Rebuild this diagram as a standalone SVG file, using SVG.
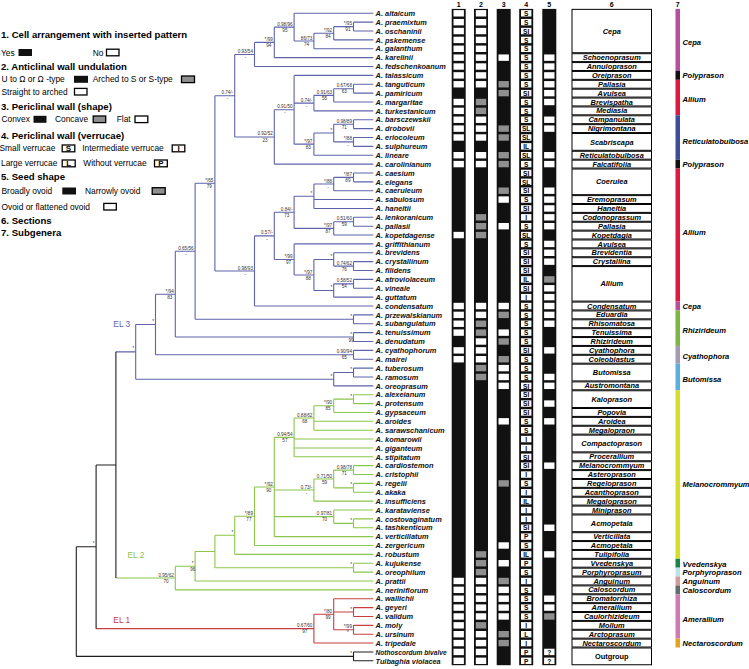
<svg xmlns="http://www.w3.org/2000/svg" width="749" height="669" viewBox="0 0 749 669">
<defs>
<style>
text{font-family:"Liberation Sans",Arial,Helvetica,sans-serif}
.lh{font-size:9.6px;font-weight:bold}
.lg{font-size:8.4px}
.tl{font-size:7.4px;font-weight:bold;font-style:italic;fill:#111}
.s{font-size:4.6px;fill:#333;text-anchor:middle}
.sec{font-size:7.4px;font-weight:bold;font-style:italic;text-anchor:middle}
.sg{font-size:7.6px;font-weight:bold;font-style:italic}
.hd{font-size:7px;font-weight:bold;text-anchor:middle}
.c4{font-size:6.6px;font-weight:bold;text-anchor:middle}
.el{font-size:8.4px}
.tr{fill:none;stroke-width:1.1}
.box{fill:#fff;stroke:#000;stroke-width:1}
.lb{fill:#fff;stroke:#000;stroke-width:1.3}
.lgr{fill:#8f8f8f;stroke:#000;stroke-width:1.3}
.lt{font-size:8px;font-weight:bold;text-anchor:middle}
</style>
<rect id="w" width="10.4" height="6.4" fill="#fff"/>
<rect id="g" width="10.4" height="6.4" fill="#8f8f8f"/>
</defs>
<rect width="749" height="669" fill="#fff"/>

<g id="legend">
<text class="lh" x="1" y="38.4">1. Cell arrangement with inserted pattern</text>
<text class="lg" x="1" y="55.7">Yes</text><rect x="18.5" y="49" width="13.5" height="7" fill="#111"/>
<text class="lg" x="92.7" y="55.7">No</text><rect class="lb" x="106.5" y="49.2" width="12.5" height="6.6"/>
<text class="lh" x="1" y="70.1">2. Anticlinal wall undulation</text>
<text class="lg" x="1.5" y="82.3">U to Ω or Ω -type</text><rect x="74" y="75.8" width="14" height="7" fill="#111"/>
<text class="lg" x="92.7" y="82.3">Arched to S or S-type</text><rect class="lgr" x="181.5" y="76" width="13" height="6.6"/>
<text class="lg" x="1.5" y="94.7">Straight to arched</text><rect class="lb" x="74.5" y="88.4" width="12.5" height="6.6"/>
<text class="lh" x="1" y="110.1">3. Periclinal wall (shape)</text>
<text class="lg" x="1.5" y="122.3">Convex</text><rect x="33.5" y="115.8" width="13" height="7" fill="#111"/>
<text class="lg" x="55" y="122.3">Concave</text><rect class="lgr" x="93.2" y="116" width="12.5" height="6.6"/>
<text class="lg" x="116.7" y="122.3">Flat</text><rect class="lb" x="135" y="116" width="12.8" height="6.6"/>
<text class="lh" x="1" y="139.1">4. Periclinal wall (verrucae)</text>
<text class="lg" x="-0.5" y="151.3">Small verrucae</text><rect class="lb" x="62.2" y="145" width="12.6" height="6.8"/><text class="lt" x="68.5" y="151">S</text>
<text class="lg" x="82.3" y="151.3">Intermediate verrucae</text><rect class="lb" x="172.2" y="145" width="12.6" height="6.8"/><text class="lt" x="178.5" y="151">I</text>
<text class="lg" x="1" y="166.3">Large verrucae</text><rect class="lb" x="62.2" y="160" width="13" height="6.8"/><text class="lt" x="68.7" y="166">L</text>
<text class="lg" x="83.3" y="166.3">Without verrucae</text><rect class="lb" x="154.5" y="160" width="12.8" height="6.8"/><text class="lt" x="160.9" y="166">P</text>
<text class="lh" x="1" y="180.1">5. Seed shape</text>
<text class="lg" x="1.5" y="194">Broadly ovoid</text><rect x="62.3" y="187.5" width="13.7" height="7" fill="#111"/>
<text class="lg" x="85" y="194">Narrowly ovoid</text><rect class="lgr" x="152.2" y="187.7" width="13" height="6.6"/>
<text class="lg" x="1.5" y="209.7">Ovoid or flattened ovoid</text><rect class="lb" x="103.8" y="203.4" width="12.5" height="6.6"/>
<text class="lh" x="1" y="224.4">6. Sections</text>
<text class="lh" x="1" y="236.1">7. Subgenera</text>
</g>

<g id="connectors">
<path class="tr" stroke="#5f63aa" d="M353.5 22.17V31.04M353.5 22.17H373.3M353.5 31.04H373.3M333.7 26.61V39.91M333.7 26.61H353.5M333.7 39.91H373.3M313.9 33.26V48.78M313.9 33.26H333.7M313.9 48.78H373.3M294.1 13.3V41.02M294.1 13.3H373.3M294.1 41.02H313.9M274.3 27.16V57.65M274.3 27.16H294.1M274.3 57.65H373.3M254.5 42.41V66.52M254.5 42.41H274.3M254.5 66.52H373.3M353.5 84.26V93.13M353.5 84.26H373.3M353.5 93.13H373.3M333.7 88.7V102M333.7 88.7H353.5M333.7 102H373.3M313.9 95.35V110.87M313.9 95.35H333.7M313.9 110.87H373.3M353.5 119.74V128.61M353.5 119.74H373.3M353.5 128.61H373.3M353.5 137.48V146.35M353.5 137.48H373.3M353.5 146.35H373.3M333.7 124.18V141.92M333.7 124.18H353.5M333.7 141.92H353.5M313.9 133.05V155.22M313.9 133.05H333.7M313.9 155.22H373.3M294.1 75.39V144.14M294.1 75.39H373.3M294.1 103.11H313.9M294.1 144.14H313.9M274.3 109.77V164.09M274.3 109.77H294.1M274.3 164.09H373.3M234.7 54.47V136.93M234.7 54.47H254.5M234.7 136.93H274.3M353.5 172.96V181.83M353.5 172.96H373.3M353.5 181.83H373.3M333.7 177.4V190.7M333.7 177.4H353.5M333.7 190.7H373.3M313.9 184.05V208.44M313.9 184.05H333.7M313.9 199.57H373.3M313.9 208.44H373.3M353.5 217.31V226.18M353.5 217.31H373.3M353.5 226.18H373.3M333.7 221.75V235.05M333.7 221.75H353.5M333.7 235.05H373.3M294.1 196.25V228.4M294.1 196.25H313.9M294.1 228.4H333.7M353.5 261.66V270.53M353.5 261.66H373.3M353.5 270.53H373.3M333.7 252.79V266.1M333.7 252.79H373.3M333.7 266.1H353.5M353.5 279.4V288.27M353.5 279.4H373.3M353.5 288.27H373.3M333.7 283.84V297.14M333.7 283.84H353.5M333.7 297.14H373.3M313.9 259.44V290.49M313.9 259.44H333.7M313.9 290.49H333.7M294.1 243.92V274.97M294.1 243.92H373.3M294.1 274.97H313.9M274.3 212.32V259.44M274.3 212.32H294.1M274.3 259.44H294.1M254.5 235.88V306.01M254.5 235.88H274.3M254.5 306.01H373.3M214.9 95.7V270.95M214.9 95.7H234.7M214.9 270.95H254.5M353.5 314.88V323.75M353.5 314.88H373.3M353.5 323.75H373.3M195.1 183.32V319.31M195.1 183.32H214.9M195.1 319.31H353.5M353.5 332.62V341.49M353.5 332.62H373.3M353.5 341.49H373.3M175.3 251.32V337.05M175.3 251.32H195.1M175.3 337.05H353.5M353.5 350.36V359.23M353.5 350.36H373.3M353.5 359.23H373.3M155.5 294.19V354.8M155.5 294.19H175.3M155.5 354.8H353.5M353.5 368.1V376.97M353.5 368.1H373.3M353.5 376.97H373.3M333.7 372.54V385.84M333.7 372.54H353.5M333.7 385.84H373.3M135.7 324.49V379.19M135.7 324.49H155.5M135.7 379.19H333.7M115.9 351.84H135.7"/>
<path class="tr" stroke="#8cc64a" d="M353.5 394.71V403.58M353.5 394.71H373.3M353.5 403.58H373.3M333.7 399.15V412.45M333.7 399.15H353.5M333.7 412.45H373.3M313.9 405.8V430.19M313.9 405.8H333.7M313.9 421.32H373.3M313.9 430.19H373.3M294.1 418V456.8M294.1 418H313.9M294.1 439.06H373.3M294.1 447.93H373.3M294.1 456.8H373.3M353.5 465.67V474.54M353.5 465.67H373.3M353.5 474.54H373.3M353.5 483.41V492.28M353.5 483.41H373.3M353.5 492.28H373.3M333.7 470.11V487.85M333.7 470.11H353.5M333.7 487.85H353.5M313.9 478.98V501.15M313.9 478.98H333.7M313.9 501.15H373.3M353.5 518.89V527.76M353.5 518.89H373.3M353.5 527.76H373.3M333.7 510.02V523.33M333.7 510.02H373.3M333.7 523.33H353.5M274.3 437.4V536.63M274.3 437.4H294.1M274.3 490.07H313.9M274.3 516.67H333.7M274.3 536.63H373.3M254.5 487.02V545.5M254.5 487.02H274.3M254.5 545.5H373.3M234.7 516.26V554.37M234.7 516.26H254.5M234.7 554.37H373.3M353.5 563.24V572.11M353.5 563.24H373.3M353.5 572.11H373.3M214.9 535.32V567.68M214.9 535.32H234.7M214.9 567.68H353.5M195.1 551.5V580.98M195.1 551.5H214.9M195.1 580.98H373.3M175.3 566.24V589.85M175.3 566.24H195.1M175.3 589.85H373.3M115.9 578.05H175.3"/>
<path class="tr" stroke="#c83c40" d="M353.5 607.59V616.46M353.5 607.59H373.3M353.5 616.46H373.3M353.5 625.33V634.2M353.5 625.33H373.3M353.5 634.2H373.3M333.7 598.72V629.77M333.7 598.72H373.3M333.7 612.03H353.5M333.7 629.77H353.5M313.9 614.25V643.07M313.9 614.25H333.7M313.9 643.07H373.3M96.1 628.66H313.9"/>
<path class="tr" stroke="#1e1e1e" d="M115.9 351.84V578.05M96.1 464.95V628.66M96.1 464.95H115.9M76.3 546.81V656.38M76.3 546.81H96.1M76.3 656.38H353.5M353.5 651.94V660.81M353.5 651.94H373.3M353.5 660.81H373.3"/>
</g>

<g id="support">
<text class="s" x="347.9" y="25.1">*/95</text><text class="s" x="347.9" y="31.2">91</text>
<text class="s" x="328.1" y="31.8">*/92</text><text class="s" x="328.1" y="37.9">84</text>
<text class="s" x="306.6" y="39.5">86/73</text><text class="s" x="306.6" y="45.6">74</text>
<text class="s" x="284.9" y="25.7">0.98/96</text><text class="s" x="284.9" y="31.8">95</text>
<text class="s" x="268.7" y="40.9">*/99</text><text class="s" x="268.7" y="47">94</text>
<text class="s" x="245.3" y="53">0.93/54</text><text class="s" x="245.3" y="59.1">-</text>
<text class="s" x="227.3" y="94.2">0.74/-</text><text class="s" x="227.3" y="100.3">-</text>
<text class="s" x="344.3" y="87.2">0.67/68</text><text class="s" x="344.3" y="93.3">63</text>
<text class="s" x="324.5" y="93.9">0.91/63</text><text class="s" x="324.5" y="100">55</text>
<text class="s" x="306.5" y="101.6">0.74/-</text><text class="s" x="306.5" y="107.7">-</text>
<text class="s" x="284.9" y="108.3">0.91/50</text><text class="s" x="284.9" y="114.4">-</text>
<text class="s" x="265.1" y="135.4">0.92/52</text><text class="s" x="265.1" y="141.5">23</text>
<text class="s" x="344.3" y="122.7">0.98/89</text><text class="s" x="344.3" y="128.8">71</text>
<text class="s" x="347.9" y="140.4">*/88</text><text class="s" x="347.9" y="146.5">-</text>
<text class="s" x="331.3" y="131.6">*</text>
<text class="s" x="308.3" y="142.6">*/97</text><text class="s" x="308.3" y="148.7">83</text>
<text class="s" x="347.9" y="175.9">*/87</text><text class="s" x="347.9" y="182">89</text>
<text class="s" x="328.1" y="182.6">*/88</text><text class="s" x="328.1" y="188.7">-</text>
<text class="s" x="311.5" y="194.8">*</text>
<text class="s" x="344.3" y="220.3">0.51/60</text><text class="s" x="344.3" y="226.4">59</text>
<text class="s" x="328.1" y="226.9">*/97</text><text class="s" x="328.1" y="233">87</text>
<text class="s" x="286.7" y="210.8">0.84/-</text><text class="s" x="286.7" y="216.9">73</text>
<text class="s" x="344.3" y="264.6">0.74/62</text><text class="s" x="344.3" y="270.7">76</text>
<text class="s" x="331.3" y="257.9">*</text>
<text class="s" x="344.3" y="282.3">0.58/52</text><text class="s" x="344.3" y="288.4">54</text>
<text class="s" x="331.3" y="289">*</text>
<text class="s" x="308.3" y="273.5">*/97</text><text class="s" x="308.3" y="279.6">88</text>
<text class="s" x="288.5" y="257.9">*/99</text><text class="s" x="288.5" y="264">97</text>
<text class="s" x="266.9" y="234.4">0.57/-</text><text class="s" x="266.9" y="240.5">-</text>
<text class="s" x="245.3" y="269.5">0.98/93</text><text class="s" x="245.3" y="275.6">-</text>
<text class="s" x="209.3" y="181.8">*/65</text><text class="s" x="209.3" y="187.9">79</text>
<text class="s" x="351.1" y="317.8">*</text>
<text class="s" x="185.9" y="249.8">0.65/56</text><text class="s" x="185.9" y="255.9">-</text>
<text class="s" x="351.1" y="335.6">*</text><text class="s" x="351.1" y="341.7">99</text>
<text class="s" x="169.7" y="292.7">*/94</text><text class="s" x="169.7" y="298.8">83</text>
<text class="s" x="344.3" y="353.3">0.90/94</text><text class="s" x="344.3" y="359.4">65</text>
<text class="s" x="153.1" y="323">*</text>
<text class="s" x="351.1" y="371">*</text>
<text class="s" x="331.3" y="377.7">*</text>
<text class="s" x="133.3" y="350.3">*</text>
<text class="s" x="351.1" y="397.7">*</text>
<text class="s" x="328.1" y="404.3">*/90</text><text class="s" x="328.1" y="410.4">85</text>
<text class="s" x="304.7" y="416.5">0.88/62</text><text class="s" x="304.7" y="422.6">68</text>
<text class="s" x="284.9" y="435.9">0.94/54</text><text class="s" x="284.9" y="442">57</text>
<text class="s" x="344.3" y="468.6">0.98/78</text><text class="s" x="344.3" y="474.7">71</text>
<text class="s" x="351.1" y="486.4">*</text>
<text class="s" x="324.5" y="477.5">0.71/50</text><text class="s" x="324.5" y="483.6">59</text>
<text class="s" x="306.5" y="488.6">0.73/-</text><text class="s" x="306.5" y="494.7">-</text>
<text class="s" x="351.1" y="521.8">*</text>
<text class="s" x="324.5" y="515.2">0.97/81</text><text class="s" x="324.5" y="521.3">70</text>
<text class="s" x="268.7" y="485.5">*/92</text><text class="s" x="268.7" y="491.6">90</text>
<text class="s" x="248.9" y="514.8">*/89</text><text class="s" x="248.9" y="520.9">77</text>
<text class="s" x="232.3" y="533.8">*</text>
<text class="s" x="351.1" y="566.2">*</text>
<text class="s" x="192.7" y="564.7">*</text><text class="s" x="192.7" y="570.8">96</text>
<text class="s" x="166.1" y="576.6">0.95/62</text><text class="s" x="166.1" y="582.7">70</text>
<text class="s" x="351.1" y="610.5">*</text>
<text class="s" x="347.9" y="628.3">*/99</text><text class="s" x="347.9" y="634.4">*</text>
<text class="s" x="328.1" y="612.8">*/80</text><text class="s" x="328.1" y="618.9">99</text>
<text class="s" x="304.7" y="627.2">0.67/60</text><text class="s" x="304.7" y="633.3">97</text>
<text class="s" x="93.7" y="545.3">*</text>
<text class="s" x="351.1" y="654.9">*</text>
</g>

<g id="clades">
<text class="el" x="113.3" y="327.2" fill="#5f63aa">EL 3</text>
<text class="el" x="127.5" y="558" fill="#8cc64a">EL 2</text>
<text class="el" x="113.3" y="623" fill="#c83c40">EL 1</text>
</g>

<g id="taxa" class="tl">
<text id="t1" x="375.6" y="16">A. altaicum</text>
<text id="t2" x="375.6" y="24.87">A. praemixtum</text>
<text id="t3" x="375.6" y="33.74">A. oschaninii</text>
<text id="t4" x="375.6" y="42.61">A. pskemense</text>
<text id="t5" x="375.6" y="51.48">A. galanthum</text>
<text id="t6" x="375.6" y="60.35">A. karelinii</text>
<text id="t7" x="375.6" y="69.22">A. fedschenkoanum</text>
<text id="t8" x="375.6" y="78.09">A. talassicum</text>
<text id="t9" x="375.6" y="86.96">A. tanguticum</text>
<text id="t10" x="375.6" y="95.83">A. pamiricum</text>
<text id="t11" x="375.6" y="104.7">A. margaritae</text>
<text id="t12" x="375.6" y="113.57">A. turkestanicum</text>
<text id="t13" x="375.6" y="122.44">A. barsczewskii</text>
<text id="t14" x="375.6" y="131.31">A. drobovii</text>
<text id="t15" x="375.6" y="140.18">A. eriocoleum</text>
<text id="t16" x="375.6" y="149.05">A. sulphureum</text>
<text id="t17" x="375.6" y="157.92">A. lineare</text>
<text id="t18" x="375.6" y="166.79">A. carolinianum</text>
<text id="t19" x="375.6" y="175.66">A. caesium</text>
<text id="t20" x="375.6" y="184.53">A. elegans</text>
<text id="t21" x="375.6" y="193.4">A. caeruleum</text>
<text id="t22" x="375.6" y="202.27">A. sabulosum</text>
<text id="t23" x="375.6" y="211.14">A. haneltii</text>
<text id="t24" x="375.6" y="220.01">A. lenkoranicum</text>
<text id="t25" x="375.6" y="228.88">A. pallasii</text>
<text id="t26" x="375.6" y="237.75">A. kopetdagense</text>
<text id="t27" x="375.6" y="246.62">A. griffithianum</text>
<text id="t28" x="375.6" y="255.49">A. brevidens</text>
<text id="t29" x="375.6" y="264.36">A. crystallinum</text>
<text id="t30" x="375.6" y="273.23">A. filidens</text>
<text id="t31" x="375.6" y="282.1">A. atroviolaceum</text>
<text id="t32" x="375.6" y="290.97">A. vineale</text>
<text id="t33" x="375.6" y="299.84">A. guttatum</text>
<text id="t34" x="375.6" y="308.71">A. condensatum</text>
<text id="t35" x="375.6" y="317.58">A. przewalskianum</text>
<text id="t36" x="375.6" y="326.45">A. subangulatum</text>
<text id="t37" x="375.6" y="335.32">A. tenuissimum</text>
<text id="t38" x="375.6" y="344.19">A. denudatum</text>
<text id="t39" x="375.6" y="353.06">A. cyathophorum</text>
<text id="t40" x="375.6" y="361.93">A. mairei</text>
<text id="t41" x="375.6" y="370.8">A. tuberosum</text>
<text id="t42" x="375.6" y="379.67">A. ramosum</text>
<text id="t43" x="375.6" y="388.54">A. oreoprasum</text>
<text id="t44" x="375.6" y="397.41">A. alexeianum</text>
<text id="t45" x="375.6" y="406.28">A. protensum</text>
<text id="t46" x="375.6" y="415.15">A. gypsaceum</text>
<text id="t47" x="375.6" y="424.02">A. aroides</text>
<text id="t48" x="375.6" y="432.89">A. sarawschanicum</text>
<text id="t49" x="375.6" y="441.76">A. komarowii</text>
<text id="t50" x="375.6" y="450.63">A. giganteum</text>
<text id="t51" x="375.6" y="459.5">A. stipitatum</text>
<text id="t52" x="375.6" y="468.37">A. cardiostemon</text>
<text id="t53" x="375.6" y="477.24">A. cristophii</text>
<text id="t54" x="375.6" y="486.11">A. regelii</text>
<text id="t55" x="375.6" y="494.98">A. akaka</text>
<text id="t56" x="375.6" y="503.85">A. insufficiens</text>
<text id="t57" x="375.6" y="512.72">A. karataviense</text>
<text id="t58" x="375.6" y="521.59">A. costovaginatum</text>
<text id="t59" x="375.6" y="530.46">A. tashkenticum</text>
<text id="t60" x="375.6" y="539.33">A. verticillatum</text>
<text id="t61" x="375.6" y="548.2">A. zergericum</text>
<text id="t62" x="375.6" y="557.07">A. robustum</text>
<text id="t63" x="375.6" y="565.94">A. kujukense</text>
<text id="t64" x="375.6" y="574.81">A. oreophilum</text>
<text id="t65" x="375.6" y="583.68">A. prattii</text>
<text id="t66" x="375.6" y="592.55">A. neriniflorum</text>
<text id="t67" x="375.6" y="601.42">A. wallichii</text>
<text id="t68" x="375.6" y="610.29">A. geyeri</text>
<text id="t69" x="375.6" y="619.16">A. validum</text>
<text id="t70" x="375.6" y="628.03">A. moly</text>
<text id="t71" x="375.6" y="636.9">A. ursinum</text>
<text id="t72" x="375.6" y="645.77">A. tripedale</text>
<text id="t73" x="375.6" y="654.64" textLength="71" lengthAdjust="spacingAndGlyphs">Nothoscordum bivalve</text>
<text id="t74" x="375.6" y="663.51" textLength="65" lengthAdjust="spacingAndGlyphs">Tulbaghia violacea</text>
</g>

<g id="headers" class="hd">
<text x="458.7" y="7">1</text><text x="481" y="7">2</text><text x="503.7" y="7">3</text><text x="526.2" y="7">4</text><text x="549.3" y="7">5</text><text x="611.7" y="7">6</text><text x="677.7" y="7">7</text>
</g>

<g id="strips" fill="#111">
<rect x="451.7" y="8.9" width="14" height="656.3"/>
<rect x="474" y="8.9" width="14" height="656.3"/>
<rect x="496.7" y="8.9" width="14" height="656.3"/>
<rect x="519.2" y="8.9" width="14" height="656.3"/>
<rect x="542.3" y="8.9" width="14" height="656.3"/>
</g>

<g id="col1" transform="translate(453.5,0)">
<use href="#w" y="10.1"/><use href="#w" y="18.97"/><use href="#w" y="27.84"/><use href="#w" y="36.71"/><use href="#w" y="45.58"/><use href="#w" y="54.45"/><use href="#w" y="63.32"/><use href="#w" y="72.19"/><use href="#w" y="81.06"/><use href="#w" y="98.8"/><use href="#w" y="107.67"/><use href="#w" y="116.54"/><use href="#w" y="125.41"/><use href="#w" y="134.28"/><use href="#w" y="152.02"/><use href="#w" y="160.89"/><use href="#w" y="231.85"/><use href="#w" y="302.81"/><use href="#w" y="311.68"/><use href="#w" y="320.55"/><use href="#w" y="329.42"/><use href="#w" y="347.16"/><use href="#w" y="356.03"/><use href="#w" y="577.78"/><use href="#w" y="586.65"/><use href="#w" y="595.52"/><use href="#w" y="604.39"/><use href="#w" y="613.26"/><use href="#w" y="622.13"/><use href="#w" y="631"/><use href="#w" y="639.87"/><use href="#w" y="648.74"/><use href="#w" y="657.61"/>
</g>
<g id="col2" transform="translate(475.8,0)">
<use href="#w" y="10.1"/><use href="#w" y="18.97"/><use href="#w" y="27.84"/><use href="#w" y="36.71"/><use href="#w" y="45.58"/><use href="#w" y="54.45"/><use href="#w" y="63.32"/><use href="#w" y="72.19"/><use href="#w" y="81.06"/><use href="#w" y="116.54"/><use href="#w" y="125.41"/><use href="#w" y="134.28"/><use href="#w" y="152.02"/><use href="#w" y="160.89"/><use href="#w" y="302.81"/><use href="#w" y="311.68"/><use href="#w" y="338.29"/><use href="#w" y="347.16"/><use href="#w" y="356.03"/><use href="#w" y="577.78"/><use href="#w" y="586.65"/><use href="#w" y="595.52"/><use href="#w" y="604.39"/><use href="#w" y="613.26"/><use href="#w" y="631"/><use href="#w" y="639.87"/><use href="#w" y="648.74"/><use href="#w" y="657.61"/>
<use href="#g" y="98.8"/><use href="#g" y="107.67"/><use href="#g" y="214.11"/><use href="#g" y="222.98"/><use href="#g" y="231.85"/><use href="#g" y="320.55"/><use href="#g" y="329.42"/><use href="#g" y="364.9"/><use href="#g" y="373.77"/><use href="#g" y="551.17"/><use href="#g" y="560.04"/><use href="#g" y="568.91"/><use href="#g" y="622.13"/>
</g>
<g id="col3" transform="translate(498.5,0)">
<use href="#w" y="54.45"/><use href="#w" y="196.37"/><use href="#w" y="222.98"/><use href="#w" y="302.81"/><use href="#w" y="329.42"/><use href="#w" y="364.9"/><use href="#w" y="373.77"/><use href="#w" y="382.64"/><use href="#w" y="418.12"/><use href="#w" y="542.3"/><use href="#w" y="560.04"/><use href="#w" y="586.65"/><use href="#w" y="595.52"/><use href="#w" y="604.39"/><use href="#w" y="613.26"/>
<use href="#g" y="81.06"/><use href="#g" y="89.93"/><use href="#g" y="125.41"/><use href="#g" y="134.28"/><use href="#g" y="152.02"/><use href="#g" y="160.89"/><use href="#g" y="187.5"/><use href="#g" y="311.68"/><use href="#g" y="338.29"/><use href="#g" y="356.03"/><use href="#g" y="480.21"/><use href="#g" y="577.78"/><use href="#g" y="631"/><use href="#g" y="639.87"/>
</g>
<g id="col5" transform="translate(544.1,0)">
<use href="#w" y="54.45"/><use href="#w" y="63.32"/><use href="#w" y="72.19"/><use href="#w" y="81.06"/><use href="#w" y="89.93"/><use href="#w" y="98.8"/><use href="#w" y="116.54"/><use href="#w" y="125.41"/><use href="#w" y="152.02"/><use href="#w" y="160.89"/><use href="#w" y="187.5"/><use href="#w" y="196.37"/><use href="#w" y="205.24"/><use href="#w" y="214.11"/><use href="#w" y="222.98"/><use href="#w" y="240.72"/><use href="#w" y="249.59"/><use href="#w" y="258.46"/><use href="#w" y="285.07"/><use href="#w" y="293.94"/><use href="#w" y="302.81"/><use href="#w" y="311.68"/><use href="#w" y="320.55"/><use href="#w" y="347.16"/><use href="#w" y="373.77"/><use href="#w" y="382.64"/><use href="#w" y="400.38"/><use href="#w" y="418.12"/><use href="#w" y="462.47"/><use href="#w" y="524.56"/><use href="#w" y="551.17"/><use href="#w" y="595.52"/><use href="#w" y="604.39"/><use href="#w" y="648.74"/><use href="#w" y="657.61"/>
<use href="#g" y="276.2"/><use href="#g" y="613.26"/>
<text class="c4" x="5.2" y="654.64">?</text><text class="c4" x="5.2" y="663.51">?</text>
</g>
<g id="col4">
<g transform="translate(521,0)">
<use href="#w" y="10.1"/><use href="#w" y="18.97"/><use href="#w" y="27.84"/><use href="#w" y="36.71"/><use href="#w" y="45.58"/><use href="#w" y="54.45"/><use href="#w" y="63.32"/><use href="#w" y="72.19"/><use href="#w" y="81.06"/><use href="#w" y="89.93"/><use href="#w" y="98.8"/><use href="#w" y="107.67"/><use href="#w" y="116.54"/><use href="#w" y="125.41"/><use href="#w" y="134.28"/><use href="#w" y="143.15"/><use href="#w" y="152.02"/><use href="#w" y="160.89"/><use href="#w" y="169.76"/><use href="#w" y="178.63"/><use href="#w" y="187.5"/><use href="#w" y="196.37"/><use href="#w" y="205.24"/><use href="#w" y="214.11"/><use href="#w" y="222.98"/><use href="#w" y="231.85"/><use href="#w" y="240.72"/><use href="#w" y="249.59"/><use href="#w" y="258.46"/><use href="#w" y="267.33"/><use href="#w" y="276.2"/><use href="#w" y="285.07"/><use href="#w" y="293.94"/><use href="#w" y="302.81"/><use href="#w" y="311.68"/><use href="#w" y="320.55"/><use href="#w" y="329.42"/><use href="#w" y="338.29"/><use href="#w" y="347.16"/><use href="#w" y="356.03"/><use href="#w" y="364.9"/><use href="#w" y="373.77"/><use href="#w" y="382.64"/><use href="#w" y="391.51"/><use href="#w" y="400.38"/><use href="#w" y="409.25"/><use href="#w" y="418.12"/><use href="#w" y="426.99"/><use href="#w" y="435.86"/><use href="#w" y="444.73"/><use href="#w" y="453.6"/><use href="#w" y="462.47"/><use href="#w" y="471.34"/><use href="#w" y="480.21"/><use href="#w" y="489.08"/><use href="#w" y="497.95"/><use href="#w" y="506.82"/><use href="#w" y="515.69"/><use href="#w" y="524.56"/><use href="#w" y="533.43"/><use href="#w" y="542.3"/><use href="#w" y="551.17"/><use href="#w" y="560.04"/><use href="#w" y="568.91"/><use href="#w" y="577.78"/><use href="#w" y="586.65"/><use href="#w" y="595.52"/><use href="#w" y="604.39"/><use href="#w" y="613.26"/><use href="#w" y="622.13"/><use href="#w" y="631"/><use href="#w" y="639.87"/><use href="#w" y="648.74"/><use href="#w" y="657.61"/>
</g>
<g class="c4">
<text x="526.2" y="16">S</text><text x="526.2" y="24.87">S</text><text x="526.2" y="33.74">SI</text><text x="526.2" y="42.61">S</text><text x="526.2" y="51.48">S</text><text x="526.2" y="60.35">S</text><text x="526.2" y="69.22">S</text><text x="526.2" y="78.09">S</text><text x="526.2" y="86.96">S</text><text x="526.2" y="95.83">SI</text><text x="526.2" y="104.7">S</text><text x="526.2" y="113.57">S</text><text x="526.2" y="122.44">S</text><text x="526.2" y="131.31">SL</text><text x="526.2" y="140.18">SL</text><text x="526.2" y="149.05">IL</text><text x="526.2" y="157.92">SL</text><text x="526.2" y="166.79">S</text><text x="526.2" y="175.66">SI</text><text x="526.2" y="184.53">SL</text><text x="526.2" y="193.4">SI</text><text x="526.2" y="202.27">S</text><text x="526.2" y="211.14">SI</text><text x="526.2" y="220.01">I</text><text x="526.2" y="228.88">S</text><text x="526.2" y="237.75">SL</text><text x="526.2" y="246.62">S</text><text x="526.2" y="255.49">SI</text><text x="526.2" y="264.36">SI</text><text x="526.2" y="273.23">SI</text><text x="526.2" y="282.1">IL</text><text x="526.2" y="290.97">SI</text><text x="526.2" y="299.84">I</text><text x="526.2" y="308.71">S</text><text x="526.2" y="317.58">S</text><text x="526.2" y="326.45">S</text><text x="526.2" y="335.32">S</text><text x="526.2" y="344.19">S</text><text x="526.2" y="353.06">SI</text><text x="526.2" y="361.93">S</text><text x="526.2" y="370.8">S</text><text x="526.2" y="379.67">S</text><text x="526.2" y="388.54">SI</text><text x="526.2" y="397.41">SI</text><text x="526.2" y="406.28">SI</text><text x="526.2" y="415.15">SI</text><text x="526.2" y="424.02">S</text><text x="526.2" y="432.89">S</text><text x="526.2" y="441.76">I</text><text x="526.2" y="450.63">I</text><text x="526.2" y="459.5">SI</text><text x="526.2" y="468.37">SI</text><text x="526.2" y="477.24">I</text><text x="526.2" y="486.11">S</text><text x="526.2" y="494.98">I</text><text x="526.2" y="503.85">IL</text><text x="526.2" y="512.72">I</text><text x="526.2" y="521.59">I</text><text x="526.2" y="530.46">SI</text><text x="526.2" y="539.33">P</text><text x="526.2" y="548.2">S</text><text x="526.2" y="557.07">IL</text><text x="526.2" y="565.94">P</text><text x="526.2" y="574.81">S</text><text x="526.2" y="583.68">I</text><text x="526.2" y="592.55">S</text><text x="526.2" y="601.42">S</text><text x="526.2" y="610.29">S</text><text x="526.2" y="619.16">S</text><text x="526.2" y="628.03">I</text><text x="526.2" y="636.9">L</text><text x="526.2" y="645.77">I</text><text x="526.2" y="654.64">P</text><text x="526.2" y="663.51">P</text>
</g>
</g>

<g id="sections">
<g class="box">
<rect x="572" y="9.35" width="79.5" height="43.38"/><rect x="572" y="53.7" width="79.5" height="7.9"/><rect x="572" y="62.57" width="79.5" height="7.9"/><rect x="572" y="71.44" width="79.5" height="7.9"/><rect x="572" y="80.31" width="79.5" height="7.9"/><rect x="572" y="89.18" width="79.5" height="7.9"/><rect x="572" y="98.05" width="79.5" height="7.9"/><rect x="572" y="106.92" width="79.5" height="7.9"/><rect x="572" y="115.79" width="79.5" height="7.9"/><rect x="572" y="124.66" width="79.5" height="7.9"/><rect x="572" y="133.53" width="79.5" height="16.77"/><rect x="572" y="151.27" width="79.5" height="7.9"/><rect x="572" y="160.14" width="79.5" height="7.9"/><rect x="572" y="169.01" width="79.5" height="25.64"/><rect x="572" y="195.62" width="79.5" height="7.9"/><rect x="572" y="204.49" width="79.5" height="7.9"/><rect x="572" y="213.36" width="79.5" height="7.9"/><rect x="572" y="222.23" width="79.5" height="7.9"/><rect x="572" y="231.1" width="79.5" height="7.9"/><rect x="572" y="239.97" width="79.5" height="7.9"/><rect x="572" y="248.84" width="79.5" height="7.9"/><rect x="572" y="257.71" width="79.5" height="7.9"/><rect x="572" y="266.58" width="79.5" height="34.51"/><rect x="572" y="302.06" width="79.5" height="7.9"/><rect x="572" y="310.93" width="79.5" height="7.9"/><rect x="572" y="319.8" width="79.5" height="7.9"/><rect x="572" y="328.67" width="79.5" height="7.9"/><rect x="572" y="337.54" width="79.5" height="7.9"/><rect x="572" y="346.41" width="79.5" height="7.9"/><rect x="572" y="355.28" width="79.5" height="7.9"/><rect x="572" y="364.15" width="79.5" height="16.77"/><rect x="572" y="381.89" width="79.5" height="7.9"/><rect x="572" y="390.76" width="79.5" height="16.77"/><rect x="572" y="408.5" width="79.5" height="7.9"/><rect x="572" y="417.37" width="79.5" height="7.9"/><rect x="572" y="426.24" width="79.5" height="7.9"/><rect x="572" y="435.11" width="79.5" height="16.77"/><rect x="572" y="452.85" width="79.5" height="7.9"/><rect x="572" y="461.72" width="79.5" height="7.9"/><rect x="572" y="470.59" width="79.5" height="7.9"/><rect x="572" y="479.46" width="79.5" height="7.9"/><rect x="572" y="488.33" width="79.5" height="7.9"/><rect x="572" y="497.2" width="79.5" height="7.9"/><rect x="572" y="506.07" width="79.5" height="7.9"/><rect x="572" y="514.94" width="79.5" height="16.77"/><rect x="572" y="532.68" width="79.5" height="7.9"/><rect x="572" y="541.55" width="79.5" height="7.9"/><rect x="572" y="550.42" width="79.5" height="7.9"/><rect x="572" y="559.29" width="79.5" height="7.9"/><rect x="572" y="568.16" width="79.5" height="7.9"/><rect x="572" y="577.03" width="79.5" height="7.9"/><rect x="572" y="585.9" width="79.5" height="7.9"/><rect x="572" y="594.77" width="79.5" height="7.9"/><rect x="572" y="603.64" width="79.5" height="7.9"/><rect x="572" y="612.51" width="79.5" height="7.9"/><rect x="572" y="621.38" width="79.5" height="7.9"/><rect x="572" y="630.25" width="79.5" height="7.9"/><rect x="572" y="639.12" width="79.5" height="7.9"/><rect x="572" y="647.99" width="79.5" height="16.77"/>
</g>
<g class="sec" transform="translate(0,-0.3)">
<text x="611.75" y="33.94">Cepa</text><text x="611.75" y="60.55">Schoenoprasum</text><text x="611.75" y="69.42">Annuloprason</text><text x="611.75" y="78.29">Oreiprason</text><text x="611.75" y="87.16">Pallasia</text><text x="611.75" y="96.03">Avulsea</text><text x="611.75" y="104.9">Brevispatha</text><text x="611.75" y="113.77">Mediasia</text><text x="611.75" y="122.64">Campanulata</text><text x="611.75" y="131.51">Nigrimontana</text><text x="611.75" y="144.82">Scabriscapa</text><text x="611.75" y="158.12">Reticulatobulbosa</text><text x="611.75" y="166.99">Falcatifolia</text><text x="611.75" y="184.73">Coerulea</text><text x="611.75" y="202.47">Eremoprasum</text><text x="611.75" y="211.34">Haneltia</text><text x="611.75" y="220.21">Codonoprassum</text><text x="611.75" y="229.08">Pallasia</text><text x="611.75" y="237.95">Kopetdagia</text><text x="611.75" y="246.82">Avulsea</text><text x="611.75" y="255.69">Brevidentia</text><text x="611.75" y="264.56">Crystallina</text><text x="611.75" y="286.74">Allium</text><text x="611.75" y="308.91">Condensatum</text><text x="611.75" y="317.78">Eduardia</text><text x="611.75" y="326.65">Rhisomatosa</text><text x="611.75" y="335.52">Tenuissima</text><text x="611.75" y="344.39">Rhizirideum</text><text x="611.75" y="353.26">Cyathophora</text><text x="611.75" y="362.13">Coleoblastus</text><text x="611.75" y="375.44">Butomissa</text><text x="611.75" y="388.74">Austromontana</text><text x="611.75" y="402.05">Kaloprason</text><text x="611.75" y="415.35">Popovia</text><text x="611.75" y="424.22">Aroidea</text><text x="611.75" y="433.09">Megalopraon</text><text x="611.75" y="446.4">Compactoprason</text><text x="611.75" y="459.7">Procerallium</text><text x="611.75" y="468.57">Melanocrommyum</text><text x="611.75" y="477.44">Asteroprason</text><text x="611.75" y="486.31">Regeloprason</text><text x="611.75" y="495.18">Acanthoprason</text><text x="611.75" y="504.05">Megaloprason</text><text x="611.75" y="512.92">Miniprason</text><text x="611.75" y="526.23">Acmopetala</text><text x="611.75" y="539.53">Verticillata</text><text x="611.75" y="548.4">Acmopetala</text><text x="611.75" y="557.27">Tulipifolia</text><text x="611.75" y="566.14">Vvedenskya</text><text x="611.75" y="575.01">Porphyroprasum</text><text x="611.75" y="583.88">Anguinum</text><text x="611.75" y="592.75">Caloscordum</text><text x="611.75" y="601.62">Bromatorrhiza</text><text x="611.75" y="610.49">Amerallium</text><text x="611.75" y="619.36">Caulorhizideum</text><text x="611.75" y="628.23">Mollum</text><text x="611.75" y="637.1">Arctoprasum</text><text x="611.75" y="645.97">Nectaroscordum</text>
<text x="611.75" y="659.28" style="font-style:normal">Outgroup</text>
</g>
</g>

<g id="subgenera">
<rect x="675.5" y="8.87" width="4.5" height="62.08" fill="#b84f9e"/>
<rect x="675.5" y="70.95" width="4.5" height="8.87" fill="#111"/>
<rect x="675.5" y="79.82" width="4.5" height="35.48" fill="#e0173e"/>
<rect x="675.5" y="115.3" width="4.5" height="44.35" fill="#3d4e9e"/>
<rect x="675.5" y="159.65" width="4.5" height="8.87" fill="#111"/>
<rect x="675.5" y="168.52" width="4.5" height="133.05" fill="#e0173e"/>
<rect x="675.5" y="301.57" width="4.5" height="8.87" fill="#b84f9e"/>
<rect x="675.5" y="310.44" width="4.5" height="35.48" fill="#7cb646"/>
<rect x="675.5" y="345.92" width="4.5" height="17.74" fill="#a59ab5"/>
<rect x="675.5" y="363.66" width="4.5" height="26.61" fill="#5aaee0"/>
<rect x="675.5" y="390.27" width="4.5" height="168.53" fill="#d6de26"/>
<rect x="675.5" y="558.8" width="4.5" height="8.87" fill="#16854a"/>
<rect x="675.5" y="567.67" width="4.5" height="8.87" fill="#bde3ea"/>
<rect x="675.5" y="576.54" width="4.5" height="8.87" fill="#d49aa0"/>
<rect x="675.5" y="585.41" width="4.5" height="8.87" fill="#5f6e6a"/>
<rect x="675.5" y="594.28" width="4.5" height="44.35" fill="#d178b9"/>
<rect x="675.5" y="638.63" width="4.5" height="8.87" fill="#e8a11e"/>
<g class="sg">
<text x="682.5" y="45.4">Cepa</text><text x="682.5" y="78.1">Polyprason</text><text x="682.5" y="102">Allium</text><text x="682.5" y="144.4">Reticulatobulbosa</text><text x="682.5" y="166.8">Polyprason</text><text x="682.5" y="235.4">Allium</text><text x="682.5" y="308.7">Cepa</text><text x="682.5" y="333.4">Rhizirideum</text><text x="682.5" y="358.7">Cyathophora</text><text x="682.5" y="381.7">Butomissa</text><text x="682.5" y="487">Melanocrommyum</text><text x="682.5" y="566.7">Vvedenskya</text><text x="682.5" y="575.4">Porphyroprason</text><text x="682.5" y="584.4">Anguinum</text><text x="682.5" y="593.4">Caloscordum</text><text x="682.5" y="622">Amerallium</text><text x="682.5" y="646.4">Nectaroscordum</text>
</g>
</g>
</svg>
